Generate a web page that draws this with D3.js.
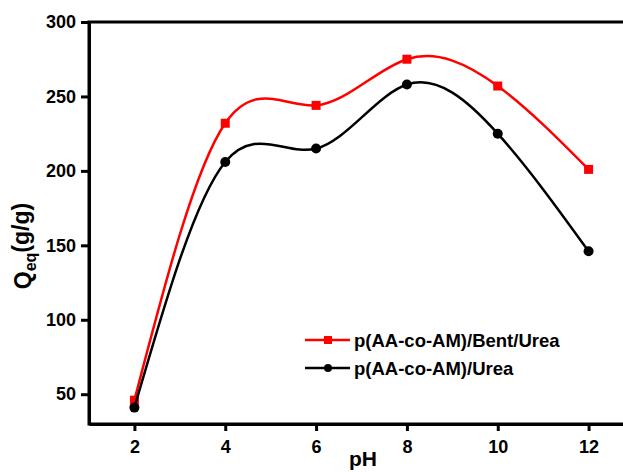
<!DOCTYPE html>
<html>
<head>
<meta charset="utf-8">
<script src="https://cdn.jsdelivr.net/npm/d3@7"></script>
<style>
  body { margin: 0; background: #fff; }
  svg { display: block; font-family: "Liberation Sans", Arial, sans-serif; }
  .axis text { font-size: 18px; font-weight: bold; fill: #000; }
  .axis path, .axis line { stroke: #000; stroke-width: 3px; }
  .legend text { font-size: 18.5px; font-weight: bold; }
</style>
</head>
<body>
<div id="chart"></div>
<script>
var pH = [2, 4, 6, 8, 10, 12];
var bentUrea = [46, 232, 244, 275, 257, 201];
var urea = [41, 206, 215, 258, 225, 146];
var xTicks = [2, 4, 6, 8, 10, 12];
var yTicks = [50, 100, 150, 200, 250, 300];
var seriesNames = ['p(AA-co-AM)/Bent/Urea', 'p(AA-co-AM)/Urea'];

var margin = {top: 22, right: 0, bottom: 48, left: 89};
var width = 623 - margin.left - margin.right;
var height = 472 - margin.top - margin.bottom;
var plotWidth = 545; // frame runs past the right edge of the picture

var svg = d3.select('#chart')
  .append('svg')
    .attr('width', 623)
    .attr('height', 472)
  .append('g')
    .attr('transform', 'translate(' + margin.left + ',' + margin.top + ')');

var x = d3.scaleLinear()
  .domain([1, 13])
  .range([0, plotWidth]);

var y = d3.scaleLinear()
  .domain([30, 300])
  .range([height, 0]);

// frame
svg.append('rect')
  .attr('x', 0)
  .attr('y', 0)
  .attr('width', plotWidth)
  .attr('height', height)
  .attr('fill', 'none')
  .attr('stroke', '#000')
  .attr('stroke-width', 3);

svg.append('g')
  .attr('class', 'axis')
  .attr('transform', 'translate(0,' + height + ')')
  .call(d3.axisBottom(x).tickValues(xTicks).tickSize(7).tickSizeOuter(0).tickPadding(9));

svg.append('g')
  .attr('class', 'axis')
  .call(d3.axisLeft(y).tickValues(yTicks).tickSize(8).tickSizeOuter(0).tickPadding(5));

var line = d3.line()
  .x(function(d) { return x(d[0]); })
  .y(function(d) { return y(d[1]); })
  .curve(d3.curveNatural);

var series = [
  {name: seriesNames[0], values: bentUrea, color: '#ff0000', shape: 'square'},
  {name: seriesNames[1], values: urea, color: '#000000', shape: 'circle'}
];

series.forEach(function(s) {
  var pts = pH.map(function(p, i) { return [p, s.values[i]]; });
  svg.append('path')
    .datum(pts)
    .attr('fill', 'none')
    .attr('stroke', s.color)
    .attr('stroke-width', 2.5)
    .attr('d', line);

  if (s.shape == 'square') {
    svg.selectAll('.sq')
      .data(pts)
      .enter().append('rect')
      .attr('x', function(d) { return x(d[0]) - 4.5; })
      .attr('y', function(d) { return y(d[1]) - 4.5; })
      .attr('width', 9)
      .attr('height', 9)
      .attr('fill', s.color);
  } else {
    svg.selectAll('.dot')
      .data(pts)
      .enter().append('circle')
      .attr('cx', function(d) { return x(d[0]); })
      .attr('cy', function(d) { return y(d[1]); })
      .attr('r', 5)
      .attr('fill', s.color);
  }
});

// legend
var legend = svg.append('g')
  .attr('class', 'legend')
  .attr('transform', 'translate(216,318)');

series.forEach(function(s, i) {
  var g = legend.append('g').attr('transform', 'translate(0,' + (i * 28) + ')');
  g.append('line')
    .attr('x1', 0).attr('x2', 45)
    .attr('stroke', s.color)
    .attr('stroke-width', 2.5);
  if (s.shape == 'square') {
    g.append('rect').attr('x', 19).attr('y', -4).attr('width', 8).attr('height', 8).attr('fill', s.color);
  } else {
    g.append('circle').attr('cx', 23).attr('r', 4).attr('fill', s.color);
  }
  g.append('text')
    .attr('x', 49)
    .attr('y', 6.5)
    .text(s.name);
});

// x axis title
svg.append('text')
  .attr('x', 274)
  .attr('y', height + 42)
  .style('text-anchor', 'middle')
  .style('font-size', '21px')
  .style('font-weight', 'bold')
  .text('pH');

// y axis title
var yLabel = svg.append('text')
  .attr('transform', 'translate(' + (-58) + ',' + 224 + ')rotate(-90)')
  .style('text-anchor', 'middle')
  .style('font-size', '23px')
  .style('font-weight', 'bold');
yLabel.append('tspan').text('Q');
yLabel.append('tspan').attr('dy', '0.3em').style('font-size', '16px').text('eq');
yLabel.append('tspan').attr('dy', '-0.3em').text('(g/g)');
</script>
</body>
</html>
